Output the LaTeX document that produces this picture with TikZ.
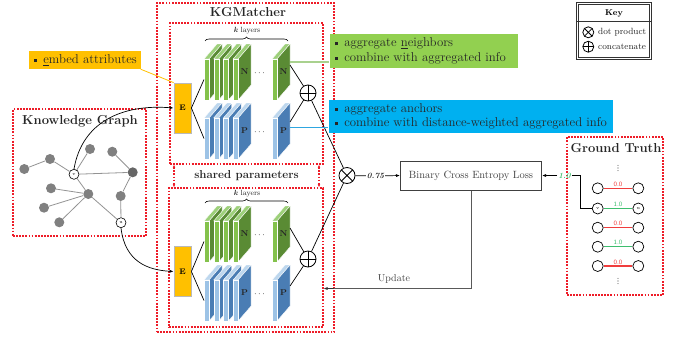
\documentclass[tikz,border=0pt]{standalone}
\usetikzlibrary{arrows.meta,decorations.pathreplacing,calc}
\definecolor{eorange}{HTML}{FFC000}
\definecolor{cgreen}{HTML}{92D050}
\definecolor{cblue}{HTML}{00B0F0}
\definecolor{gF}{HTML}{84C24C}
\definecolor{gS}{HTML}{5A8B34}
\definecolor{gT}{HTML}{9DD07A}
\definecolor{bF}{HTML}{9DC3E6}
\definecolor{bS}{HTML}{4A7DB4}
\definecolor{bT}{HTML}{BDD7EE}
\definecolor{dashred}{HTML}{EE1C28}
\definecolor{nodegray}{HTML}{808080}
\definecolor{gtred}{HTML}{F03C3C}
\definecolor{gtgreen}{HTML}{3DBE6E}
\definecolor{linkgreen}{HTML}{A9D18E}
\definecolor{linkblue}{HTML}{2EA6E0}
\definecolor{txt}{HTML}{262626}

% one layer slab: x, y (top-left of front face), front, side, top colours
\newcommand{\drawslab}[5]{%
  \filldraw[fill=#5,draw=white,line width=0.4pt] (#1,#2) -- ++(13,-15) -- ++(5,0) -- ++(-13,15) -- cycle;
  \filldraw[fill=#4,draw=white,line width=0.4pt] (#1+5,#2) -- ++(13,-15) -- ++(0,41) -- ++(-13,15) -- cycle;
  \filldraw[fill=#3,draw=white,line width=0.4pt] (#1,#2) rectangle ++(5,41);
}
% a stack of k layers: y, front, side, top, letter
\newcommand{\slabstack}[5]{%
  \foreach \i in {0,...,3} {\drawslab{204+9.7*\i}{#1}{#2}{#3}{#4}}
  \drawslab{272}{#1}{#2}{#3}{#4}
  \node[layerlbl] at (233+11.5,#1+13) {#5};
  \node[layerlbl] at (272+11.5,#1+13) {#5};
  \node[font=\fontsize{9}{10}\selectfont] at (259.5,#1+14) {$\cdots$};
}
\newcommand{\blt}{\raisebox{1.5pt}{\rule{3.2pt}{3.2pt}}\hspace{6pt}}
% vertical ellipsis drawn as three small dots
\newcommand{\vdotsat}[2]{\foreach \k in {-2.6,0,2.6} \fill[black!70] (#1,#2+\k) circle (0.55pt);}

\begin{document}
\begin{tikzpicture}[x=1pt,y=-1pt,
  reddash/.style={draw=dashred, line width=1.1pt, line cap=butt, dash pattern=on 1.8pt off 1.3pt, inner sep=0pt},
  ebox/.style={draw=gray!55, line width=0.8pt, fill=eorange, minimum width=17pt, minimum height=50pt, inner sep=0pt, font=\bfseries\fontsize{8}{9}\selectfont},
  layerlbl/.style={font=\bfseries\fontsize{8.5}{9}\selectfont, text=txt},
  title/.style={font=\bfseries\fontsize{13}{14}\selectfont, text=txt},
  klbl/.style={font=\fontsize{7.5}{8}\selectfont, text=txt},
  callout/.style={inner sep=0pt, anchor=west, align=left, font=\fontsize{12.8}{14.5}\selectfont, text=txt},
  gnode/.style={circle, fill=nodegray, minimum size=10pt, inner sep=0pt},
  wnode/.style={circle, draw=black, fill=white, line width=0.6pt, minimum size=10pt, inner sep=0pt, font=\fontsize{4.5}{5}\selectfont},
  gedge/.style={draw=gray!85, line width=0.8pt},
  oplus/.style={circle, draw=black, line width=0.8pt, minimum size=#1, inner sep=0pt, fill=white,
    path picture={\draw[line width=0.8pt] (path picture bounding box.north) -- (path picture bounding box.south)
      (path picture bounding box.west) -- (path picture bounding box.east);}},
  otimes/.style={circle, draw=black, line width=0.8pt, minimum size=#1, inner sep=0pt, fill=white,
    path picture={\draw[line width=0.8pt] (path picture bounding box.north west) -- (path picture bounding box.south east)
      (path picture bounding box.south west) -- (path picture bounding box.north east);}},
  conn/.style={draw=black, line width=0.7pt},
  arr/.style={conn, -{Latex[length=4pt,width=3pt]}},
  sharearr/.style={reddash, {Latex[length=3pt,width=2.5pt]}-{Latex[length=3pt,width=2.5pt]}},
  gtcirc/.style={circle, draw=black, line width=0.7pt, fill=white, minimum size=11pt, inner sep=0pt, font=\fontsize{4.5}{5}\selectfont},
  gtlbl/.style={font=\sffamily\fontsize{6.5}{7}\selectfont, inner sep=1pt},
]
\useasboundingbox (0,0) rectangle (684,338);

% ---------- KGMatcher frames ----------
\node[reddash, minimum width=177, minimum height=329] (kgm) at (245.5,167.5) {};
\node[title] at (248,12) {KGMatcher};
\node[reddash, minimum width=153, minimum height=141] (inA) at (246.5,93.5) {};
\node[reddash, minimum width=154, minimum height=139] (inB) at (246,257.5) {};
\coordinate (shL) at (174,0);
\coordinate (shR) at (319,0);
\draw[sharearr] (shL |- inA.south) -- (shL |- inB.north);
\draw[sharearr] (shR |- inA.south) -- (shR |- inB.north);
\node[font=\bfseries\fontsize{11.5}{12}\selectfont, text=txt] (shared) at (246.5,176) {shared parameters};

% ---------- upper branch ----------
\node[ebox] (E1) at (182.5,108) {E};
\slabstack{59}{gF}{gS}{gT}{N}
\slabstack{118}{bF}{bS}{bT}{P}
\draw[decorate, decoration={brace, amplitude=4pt}, line width=0.6pt] (205,41) -- (288,41);
\node[klbl] at (247,31) {\textbf{\textit{k}} layers};
\coordinate (nA1) at (204,79.5);
\coordinate (pA1) at (204,138.5);
\coordinate (nAo) at (290,65);
\coordinate (pAo) at (290,122);
\coordinate (nAc) at (290,62);
\coordinate (pAc) at (290,127);
\node[oplus=16pt] (opA) at (308,93) {};
\draw[conn] (E1.east) -- (nA1);
\draw[conn] (E1.east) -- (pA1);
\draw[conn] (nAo) -- (opA);
\draw[conn] (pAo) -- (opA);

% ---------- lower branch ----------
\node[ebox] (E2) at (182.5,271.5) {E};
\slabstack{221}{gF}{gS}{gT}{N}
\slabstack{280}{bF}{bS}{bT}{P}
\draw[decorate, decoration={brace, amplitude=4pt}, line width=0.6pt] (205,203) -- (288,203);
\node[klbl] at (247,194) {\textbf{\textit{k}} layers};
\coordinate (nB1) at (204,241.5);
\coordinate (pB1) at (204,300.5);
\coordinate (nBo) at (290,228);
\coordinate (pBo) at (290,286);
\node[oplus=16pt] (opB) at (308,259) {};
\draw[conn] (E2.east) -- (nB1);
\draw[conn] (E2.east) -- (pB1);
\draw[conn] (nBo) -- (opB);
\draw[conn] (pBo) -- (opB);

% ---------- dot product and loss ----------
\node[otimes=16pt] (ot) at (347,175.5) {};
\draw[conn] (opA) -- (ot);
\draw[conn] (opB) -- (ot);
\node[font=\bfseries\itshape\fontsize{8}{9}\selectfont, text=txt, inner sep=1pt] (score) at (375.5,176) {0.75};
\draw[conn] (ot) -- (score);
\node[draw=black!75, line width=1pt, minimum width=141, minimum height=29, inner sep=0pt,
      font=\fontsize{10.5}{11}\selectfont, text=black!75] (bce) at (471,175.5) {Binary Cross Entropy Loss};
\draw[arr] (score) -- (bce.west);
\coordinate (upd) at (323.5,288.5);
\draw[draw=black!65, line width=1pt] (bce.south) |- ($(upd)+(8,0)$);
\draw[arr, draw=black!80] ($(upd)+(10,0)$) -- (upd);
\node[font=\fontsize{10}{11}\selectfont, text=black!75] at (394,279) {Update};

% ---------- callouts ----------
\node[fill=eorange, minimum width=112, minimum height=18, inner sep=0pt] (cE) at (84.5,60) {};
\node[callout] at (34,60) {\blt\underline{e}mbed attributes};
\draw[draw=eorange, line width=0.8pt] (cE.south east) -- (E1.north west);

\node[fill=cgreen, minimum width=188, minimum height=34, inner sep=0pt] (cN) at (423.5,51) {};
\node[callout] at (335,51) {\blt aggregate \underline{n}eighbors\\ \blt combine with aggregated info};
\draw[draw=linkgreen, line width=1.2pt] (nAc) -- (nAc -| cN.west);

\node[fill=cblue, minimum width=284, minimum height=33, inner sep=0pt] (cP) at (470.5,116.5) {};
\node[callout] at (335,116.5) {\blt aggregate anchors\\ \blt combine with distance-weighted aggregated info};
\draw[draw=linkblue, line width=1pt] (pAc) -- (pAc -| cP.west);

% ---------- knowledge graph ----------
\node[reddash, minimum width=133, minimum height=127] (kg) at (79.5,172.5) {};
\node[title] at (80,121) {Knowledge Graph};
\node[gnode] (ga) at (24.3,169) {};
\node[gnode] (gb) at (50,159) {};
\node[gnode] (gc) at (90,149) {};
\node[gnode] (gd) at (112.3,151.7) {};
\node[gnode, fill=gray!80!black] (ge) at (132.7,172.3) {};
\node[gnode] (gf) at (51,188.3) {};
\node[gnode] (gg) at (88.3,194) {};
\node[gnode] (gh) at (44,207.7) {};
\node[gnode] (gi) at (59.3,222.3) {};
\node[gnode] (gj) at (120.7,196) {};
\foreach \s/\t in {ga/gb, gd/ge, ge/gj, gg/gf, gg/gh, gg/gi} \draw[gedge] (\s) -- (\t);
\node[wnode] (gv) at (74,174.3) {v};
\node[wnode] (gu) at (121,222.7) {u};
\foreach \s/\t in {gb/gv, gv/gc, gv/ge, gv/gg, gj/gu, gg/gu} \draw[gedge] (\s) -- (\t);
\draw[arr] (gv.north) .. controls (82,122) and (122,104) .. (E1.west);
\draw[arr] (gu.south) .. controls (125,262) and (148,270) .. (E2.west);

% ---------- ground truth ----------
\node[reddash, minimum width=96, minimum height=158] (gt) at (615,216) {};
\node[title] at (616,148) {Ground Truth};
\vdotsat{618}{168}
\vdotsat{618}{281}
\foreach \r/\y/\v/\c in {1/188.3/0.0/gtred, 2/208.5/1.0/gtgreen, 3/227.7/0.0/gtred, 4/246.7/1.0/gtgreen, 5/266/0.0/gtred} {
  \node[gtcirc] (l\r) at (597.7,\y) {};
  \node[gtcirc] (r\r) at (638.3,\y) {};
  \draw[draw=\c, line width=1.1pt] (l\r) -- (r\r);
  \node[gtlbl, text=\c, anchor=south] at (618,\y-0.5) {\v};
}
\node[font=\fontsize{4.5}{5}\selectfont] at (l2) {v};
\node[font=\fontsize{4.5}{5}\selectfont] at (r2) {u};
\node[font=\bfseries\itshape\fontsize{8}{9}\selectfont, text=gtgreen, inner sep=1pt] (truth) at (564.5,175.5) {1.0};
\draw[arr] (truth) -- (bce.east);
\draw[conn] (truth.east) -- (580.7,175.5) |- (l2.west);

% ---------- key ----------
\node[draw=black!80, double=white, double distance=0.7pt, line width=0.9pt, minimum width=73, minimum height=55, inner sep=0pt] (key) at (614,31) {};
\node[font=\bfseries\fontsize{8.5}{9}\selectfont] at (614,13) {Key};
\draw[line width=0.8pt, draw=black!80] (key.west |- 0,21) -- (key.east |- 0,21);
\node[otimes=11pt] (kx) at (588.3,32.3) {};
\node[oplus=11pt] (kp) at (588.3,46.7) {};
\node[anchor=west, inner sep=0pt, font=\fontsize{9}{10}\selectfont, text=txt] at (598,32.3) {dot product};
\node[anchor=west, inner sep=0pt, font=\fontsize{9}{10}\selectfont, text=txt] at (598,46.7) {concatenate};
\end{tikzpicture}
\end{document}
